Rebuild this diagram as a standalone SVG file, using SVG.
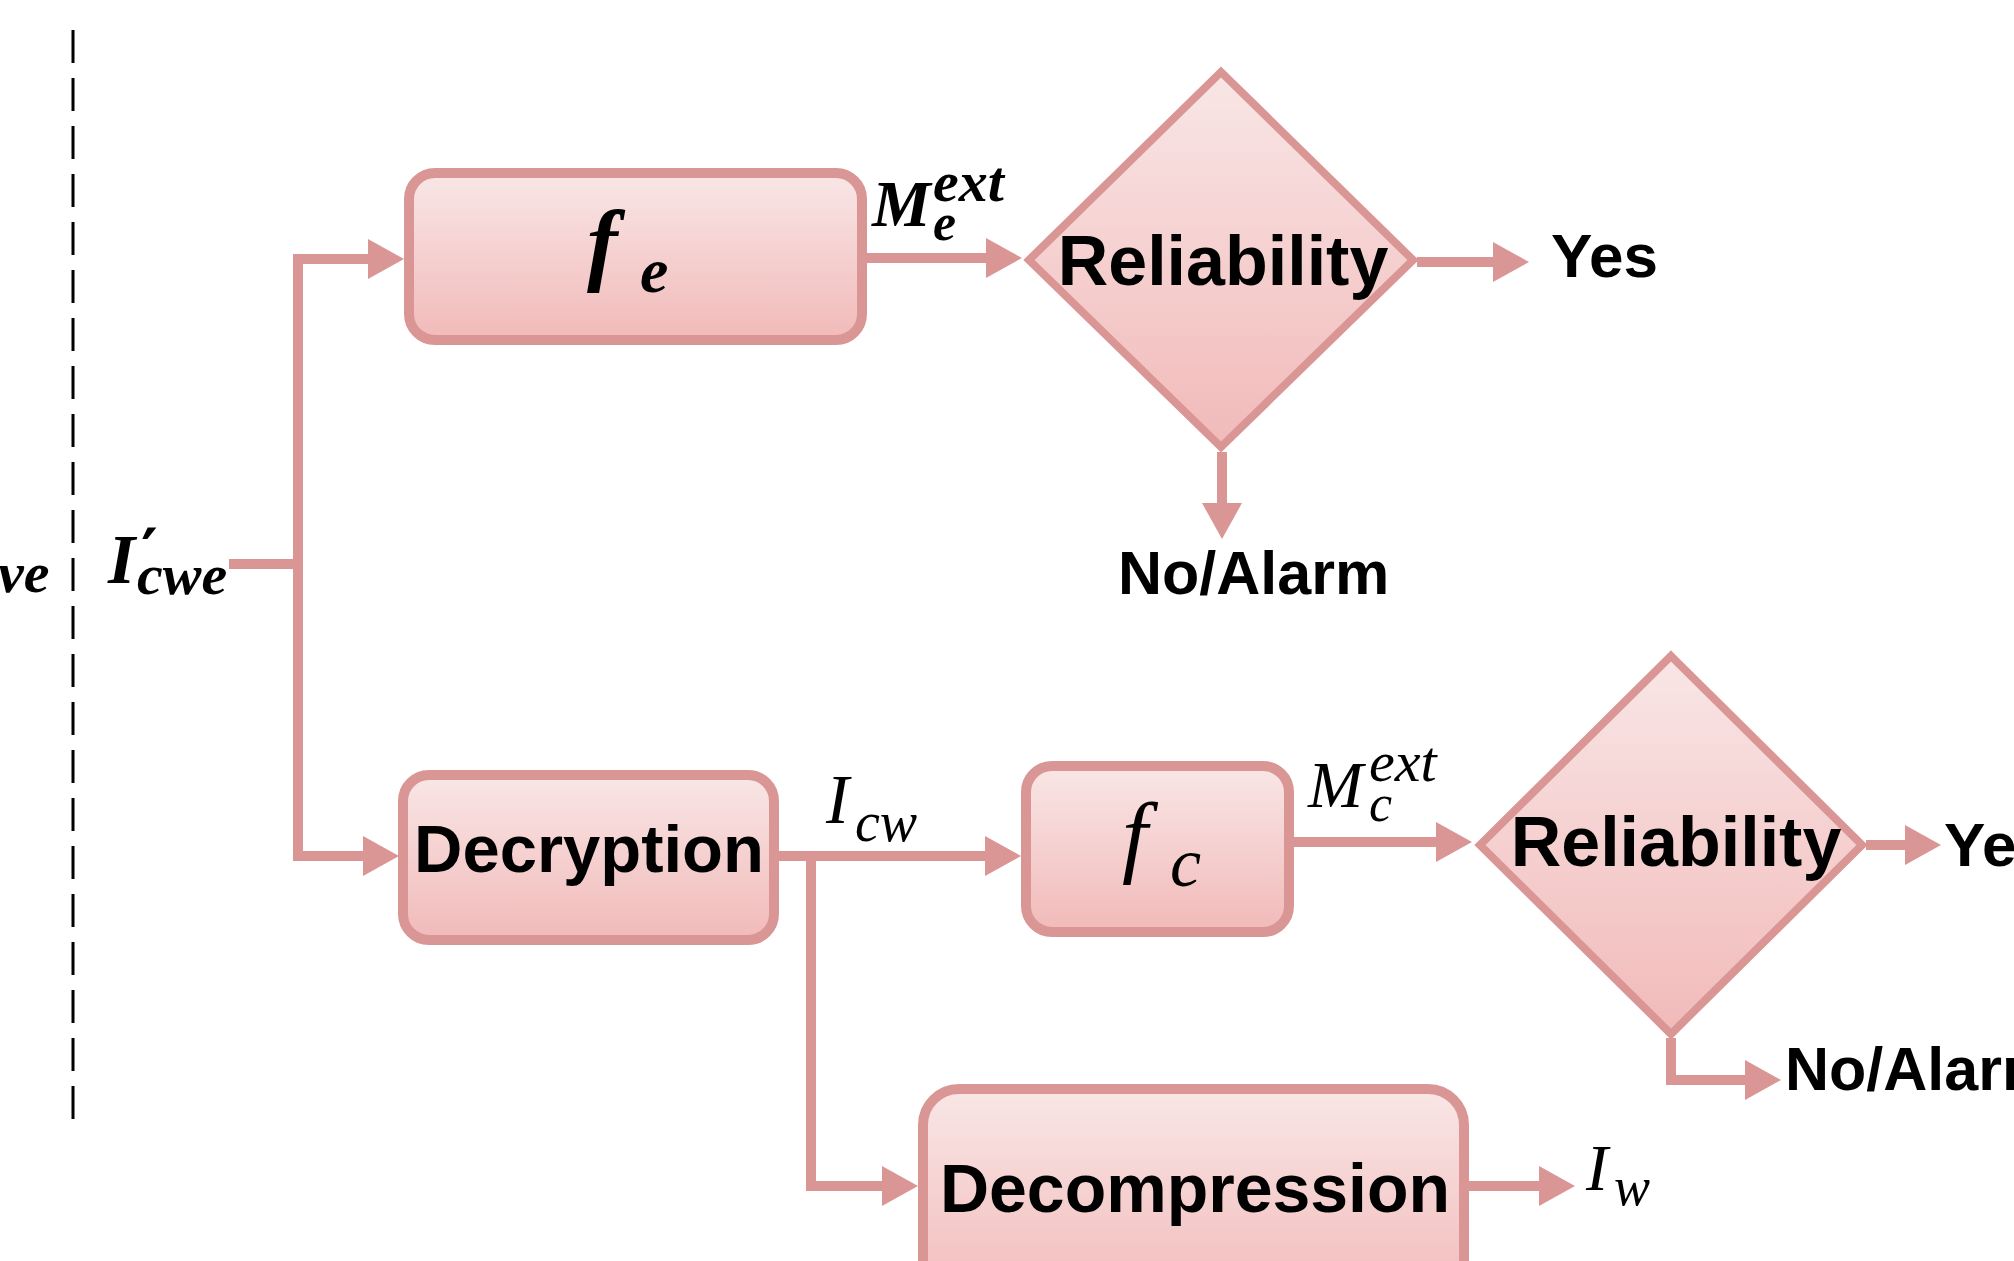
<svg xmlns="http://www.w3.org/2000/svg" width="2014" height="1261" viewBox="0 0 2014 1261">
<defs>
<linearGradient id="gf" x1="0" y1="0" x2="0" y2="1">
<stop offset="0" stop-color="#F9E6E6"/>
<stop offset="1" stop-color="#F1BAB9"/>
</linearGradient>
<marker id="ah" markerUnits="userSpaceOnUse" markerWidth="36" markerHeight="40" refX="4" refY="20" orient="auto">
<path d="M0,0 L36,20 L0,40 z" fill="#D99695"/>
</marker>
<style>
.box{fill:url(#gf);stroke:#D99695;stroke-width:10}
.dia{fill:url(#gf);stroke:#D99695;stroke-width:8;stroke-linejoin:miter}
.con{fill:none;stroke:#D99695;stroke-width:10;stroke-linejoin:miter;stroke-linecap:butt}
.arr{marker-end:url(#ah)}
.lbl{font-family:"Liberation Sans",Arial,sans-serif;font-weight:bold;fill:#000}
.m{font-family:"Liberation Serif","Times New Roman",serif;font-style:italic;fill:#000}
.mb{font-family:"Liberation Serif","Times New Roman",serif;font-style:italic;font-weight:bold;fill:#000}
</style>
</defs>
<rect width="2014" height="1261" fill="#fff"/>
<line x1="73" y1="30" x2="73" y2="1130" stroke="#000" stroke-width="3" stroke-dasharray="33 15"/>
<text class="mb" x="-2" y="592" font-size="58">ve</text>
<g id="connectors">
<path class="con" d="M229,564 H298"/>
<path class="con arr" d="M298,564 V259 H372"/>
<path class="con arr" d="M298,564 V856 H367"/>
<path class="con arr" d="M867,258 H990"/>
<path class="con arr" d="M1417,262 H1497"/>
<path class="con arr" d="M1222,452 V507"/>
<path class="con arr" d="M778,856 H989"/>
<path class="con arr" d="M811,861 V1186 H886"/>
<path class="con arr" d="M1294,842 H1440"/>
<path class="con arr" d="M1866,845 H1909"/>
<path class="con arr" d="M1671,1038 V1080 H1749"/>
<path class="con arr" d="M1468,1186 H1543"/>
</g>
<g id="input-label">
<text class="mb" x="108" y="583" font-size="70">I</text>
<text x="141" y="574" font-size="64" font-family="'DejaVu Serif',serif" font-weight="bold">′</text>
<text class="mb" x="137" y="594" font-size="58">cwe</text>
</g>
<g id="fe">
<rect class="box" x="409" y="173" width="453" height="167" rx="26"/>
<text class="mb" x="587" y="274" font-size="92">f</text>
<text class="mb" x="640" y="292" font-size="64">e</text>
</g>
<g id="me-label">
<text class="mb" x="872" y="226" font-size="66">M</text>
<text class="mb" x="933" y="201" font-size="58">ext</text>
<text class="mb" x="933" y="240" font-size="52">e</text>
</g>
<g id="rel1">
<path class="dia" d="M1221,72 L1413,260 L1221,447 L1029,260 Z"/>
<text class="lbl" x="1223" y="285" font-size="70" text-anchor="middle">Reliability</text>
</g>
<text class="lbl" x="1551" y="277" font-size="62">Yes</text>
<text class="lbl" x="1118" y="594" font-size="61">No/Alarm</text>
<g id="decryption">
<rect class="box" x="403" y="775" width="371" height="165" rx="26"/>
<text class="lbl" x="589" y="872" font-size="67" text-anchor="middle">Decryption</text>
</g>
<g id="icw-label">
<text class="m" x="826" y="823" font-size="69">I</text>
<text class="m" x="855" y="841" font-size="56">cw</text>
</g>
<g id="fc">
<rect class="box" x="1026" y="766" width="263" height="166" rx="26"/>
<text class="m" x="1122" y="866" font-size="92">f</text>
<text class="m" x="1170" y="886" font-size="70">c</text>
</g>
<g id="mc-label">
<text class="m" x="1308" y="807" font-size="66">M</text>
<text class="m" x="1369" y="781" font-size="58">ext</text>
<text class="m" x="1369" y="821" font-size="52">c</text>
</g>
<g id="rel2">
<path class="dia" d="M1671,656 L1862,845 L1671,1034 L1480,845 Z"/>
<text class="lbl" x="1676" y="866" font-size="70" text-anchor="middle">Reliability</text>
</g>
<text class="lbl" x="1944" y="866" font-size="62">Yes</text>
<text class="lbl" x="1785" y="1090" font-size="61">No/Alarm</text>
<g id="decompression">
<rect class="box" x="923" y="1089" width="541" height="220" rx="36"/>
<text class="lbl" x="1195" y="1212" font-size="68" text-anchor="middle">Decompression</text>
</g>
<g id="iw-label">
<text class="m" x="1586" y="1190" font-size="66">I</text>
<text class="m" x="1614" y="1205" font-size="54">w</text>
</g>
</svg>
